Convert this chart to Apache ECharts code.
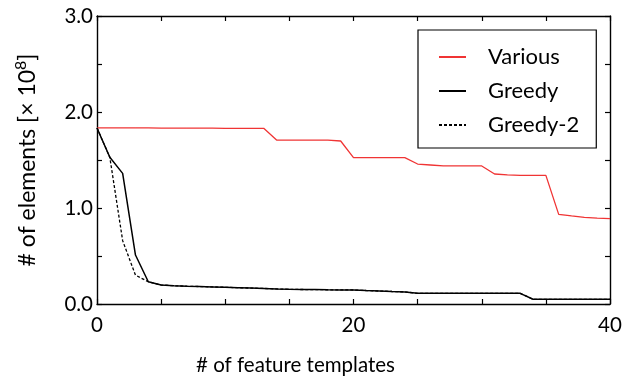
<!DOCTYPE html>
<html>
<head>
<meta charset="utf-8">
<script src="https://cdn.jsdelivr.net/npm/echarts@6/dist/echarts.min.js"></script>
<style>
  html, body { margin: 0; height: 100%; background: #fff; }
  #container { width: 624px; height: 376px; }
</style>
</head>
<body>
<div id="container"></div>
<script>
  // x: number of feature templates
  const templates = [0, 1, 2, 3, 4, 5, 6, 7, 8, 9, 10, 11, 12, 13, 14, 15, 16, 17, 18, 19, 20,
    21, 22, 23, 24, 25, 26, 27, 28, 29, 30, 31, 32, 33, 34, 35, 36, 37, 38, 39, 40];

  // # of elements (x 10^8)
  const various = [1.835, 1.835, 1.835, 1.834, 1.834, 1.833, 1.833, 1.832, 1.831, 1.831,
    1.830, 1.830, 1.830, 1.830, 1.708, 1.708, 1.708, 1.708, 1.706, 1.698,
    1.524, 1.524, 1.524, 1.524, 1.524, 1.458, 1.448, 1.438, 1.438, 1.438,
    1.438, 1.354, 1.345, 1.340, 1.340, 1.340, 0.934, 0.918, 0.903, 0.895, 0.889];
  const greedy = [1.833, 1.528, 1.361, 0.510, 0.232, 0.198, 0.190, 0.185, 0.182, 0.178,
    0.174, 0.170, 0.166, 0.162, 0.157, 0.153, 0.151, 0.150, 0.148, 0.147,
    0.146, 0.140, 0.135, 0.130, 0.126, 0.111, 0.111, 0.111, 0.111, 0.111,
    0.111, 0.111, 0.111, 0.111, 0.049, 0.049, 0.049, 0.049, 0.049, 0.049, 0.049];
  const greedy2 = [1.833, 1.528, 0.660, 0.300, 0.232, 0.198, 0.190, 0.185, 0.182, 0.178,
    0.174, 0.170, 0.166, 0.162, 0.157, 0.153, 0.151, 0.150, 0.148, 0.147,
    0.146, 0.140, 0.135, 0.130, 0.126, 0.111, 0.111, 0.111, 0.111, 0.111,
    0.111, 0.111, 0.111, 0.111, 0.049, 0.049, 0.049, 0.049, 0.049, 0.049, 0.049];

  const xLabels = [0, 20, 40];
  const yLabels = [0, 1, 2, 3];

  const FONT = 'Lato';
  const pairs = arr => templates.map((t, i) => [t, arr[i]]);

  const mChart = echarts.init(document.getElementById('container'), null, { renderer: 'canvas' });

  // fresh objects per axis so nothing is shared between them
  const axisLine = () => ({ show: true, onZero: false, lineStyle: { color: '#000', width: 1.4 } });
  const tick = () => ({ show: true, inside: true, length: 5, lineStyle: { color: '#000', width: 1.2 } });

  const option = {
    animation: false,
    textStyle: { fontFamily: FONT, color: '#000' },
    grid: { left: 97, right: 14, top: 16, bottom: 72, outerBoundsMode: 'none', containLabel: false },
    legend: {
      orient: 'vertical',
      left: 418,
      top: 30,
      padding: [16, 17, 12, 20],
      itemWidth: 27,
      itemHeight: 22,
      itemGap: 12,
      borderColor: '#000',
      borderWidth: 1.2,
      borderRadius: 0,
      itemStyle: { opacity: 0 },
      textStyle: { fontFamily: FONT, fontSize: 22, color: '#000', lineHeight: 22, padding: [0, 0, 0, 17] },
      data: ['Various', 'Greedy', 'Greedy-2']
    },
    xAxis: [
      {
        type: 'value', min: 0, max: 40, interval: 5,
        name: '# of feature templates',
        nameLocation: 'middle',
        nameGap: 51,
        nameTextStyle: { fontFamily: FONT, fontSize: 20.5, color: '#000', padding: [0, 116, 0, 0] },
        axisLine: axisLine(), axisTick: tick(), splitLine: { show: false },
        axisLabel: {
          fontFamily: FONT, fontSize: 20.5, color: '#000', margin: 11,
          formatter: v => (xLabels.indexOf(v) >= 0 ? String(v) : '')
        }
      },
      {
        type: 'value', min: 0, max: 40, interval: 5, position: 'top',
        axisLine: axisLine(), axisTick: tick(), axisLabel: { show: false }, splitLine: { show: false }
      }
    ],
    yAxis: [
      {
        type: 'value', min: 0, max: 3, interval: 0.5,
        name: '# of elements [× 10{sup|8}]',
        nameLocation: 'middle',
        nameGap: 54,
        nameRotate: 90,
        nameTextStyle: {
          fontFamily: FONT, fontSize: 23, color: '#000',
          rich: { sup: { fontFamily: FONT, fontSize: 16, color: '#000', verticalAlign: 'top', lineHeight: 30 } }
        },
        axisLine: axisLine(), axisTick: tick(), splitLine: { show: false },
        axisLabel: {
          fontFamily: FONT, fontSize: 20.5, color: '#000', margin: 4,
          formatter: v => (yLabels.indexOf(v) >= 0 ? v.toFixed(1) : '')
        }
      },
      {
        type: 'value', min: 0, max: 3, interval: 0.5, position: 'right',
        axisLine: axisLine(), axisTick: tick(), axisLabel: { show: false }, splitLine: { show: false }
      }
    ],
    series: [
      {
        name: 'Various', type: 'line', symbol: 'none', data: pairs(various),
        lineStyle: { color: '#f03434', width: 1.3 }, itemStyle: { color: '#f03434' }
      },
      {
        name: 'Greedy', type: 'line', symbol: 'none', data: pairs(greedy),
        lineStyle: { color: '#000', width: 1.5 }, itemStyle: { color: '#000' }
      },
      {
        name: 'Greedy-2', type: 'line', symbol: 'none', data: pairs(greedy2),
        lineStyle: { color: '#000', width: 1.3, type: [3, 2] }, itemStyle: { color: '#000' }
      }
    ]
  };

  mChart.setOption(option);
  window.addEventListener('resize', mChart.resize);
</script>
</body>
</html>
